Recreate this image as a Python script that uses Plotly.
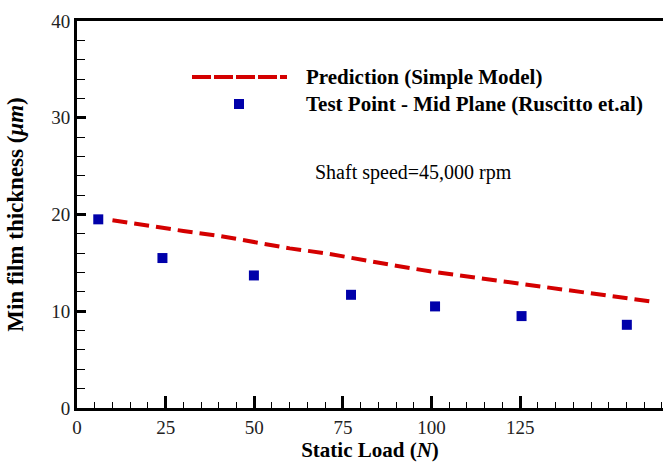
import plotly.graph_objects as go

# Data
test_load = [6.0, 24.1, 49.9, 77.3, 101.0, 125.4, 155.1]
test_film = [19.5, 15.5, 13.7, 11.7, 10.5, 9.5, 8.6]

pred_load = [10, 20, 30, 40, 50, 60, 70, 80, 90, 100, 110, 120, 130, 140, 150, 160, 163]
pred_film = [19.4, 18.8, 18.3, 17.8, 17.1, 16.5, 16.0, 15.3, 14.7, 14.1, 13.6, 13.0, 12.6, 12.0, 11.6, 11.1, 10.95]

x_ticks = [0, 25, 50, 75, 100, 125]
y_ticks = [0, 10, 20, 30, 40]

RED = "#d40000"
BLUE = "#0000aa"
SERIF = "Liberation Serif"

fig = go.Figure()
fig.add_trace(go.Scatter(x=pred_load, y=pred_film, mode="lines",
                         line=dict(color=RED, width=4, dash="15px,7px"),
                         showlegend=False))
fig.add_trace(go.Scatter(x=test_load, y=test_film, mode="markers",
                         marker=dict(symbol="square", size=10, color=BLUE),
                         showlegend=False))

W, H = 663, 465
ml, mr, mt, mb = 77, 0, 21, 57
pw, ph = W - ml - mr, H - mt - mb

def px(xp):
    return (xp - ml) / pw

def py(yp):
    return 1 - (yp - mt) / ph

# Manual legend
fig.add_shape(type="line", xref="paper", yref="paper",
              x0=px(192), x1=px(287), y0=py(77), y1=py(77),
              line=dict(color=RED, width=4, dash="19px,3px"))
fig.add_shape(type="rect", xref="paper", yref="paper",
              x0=px(234), x1=px(244), y0=py(99), y1=py(109),
              fillcolor=BLUE, line=dict(width=0))
fig.add_annotation(xref="paper", yref="paper", x=px(304), y=py(77),
                   text="<b>Prediction (Simple Model)</b>", showarrow=False,
                   xanchor="left", yanchor="middle",
                   font=dict(family=SERIF, size=21, color="black"))
fig.add_annotation(xref="paper", yref="paper", x=px(304), y=py(104),
                   text="<b>Test Point - Mid Plane (Ruscitto et.al)</b>", showarrow=False,
                   xanchor="left", yanchor="middle",
                   font=dict(family=SERIF, size=21, color="black"))
fig.add_annotation(xref="paper", yref="paper", x=px(413), y=py(173),
                   text="Shaft speed=45,000 rpm", showarrow=False,
                   xanchor="center", yanchor="middle",
                   font=dict(family=SERIF, size=20, color="black"))

fig.update_layout(
    width=W, height=H,
    margin=dict(l=ml, r=mr, t=mt, b=mb),
    paper_bgcolor="white", plot_bgcolor="white",
    font=dict(family=SERIF, color="black"),
    xaxis=dict(range=[0, 165.3], tickvals=x_ticks, ticks="inside", ticklen=12,
               tickwidth=3, tickcolor="black", showgrid=False, zeroline=False,
               showline=True, linecolor="black", linewidth=3, mirror=True,
               tickfont=dict(family=SERIF, size=19, color="#222"),
               minor=dict(dtick=5, tick0=0, ticks="inside", ticklen=6,
                          tickwidth=1, tickcolor="black", showgrid=False),
               title=dict(text="<b>Static Load (<i>N</i>)</b>", standoff=4,
                          font=dict(family=SERIF, size=21, color="black"))),
    yaxis=dict(range=[0, 40], tickvals=y_ticks, ticks="inside", ticklen=9,
               tickwidth=3, tickcolor="black", showgrid=False, zeroline=False,
               showline=True, linecolor="black", linewidth=3,
               tickfont=dict(family=SERIF, size=19, color="#222"),
               minor=dict(dtick=2, tick0=0, ticks="inside", ticklen=8,
                          tickwidth=1, tickcolor="black", showgrid=False),
               title=dict(text="<b>Min film thickness (<i>μm</i>)</b>", standoff=22,
                          font=dict(family=SERIF, size=23, color="black"))),
)

fig.write_html("out.html")
